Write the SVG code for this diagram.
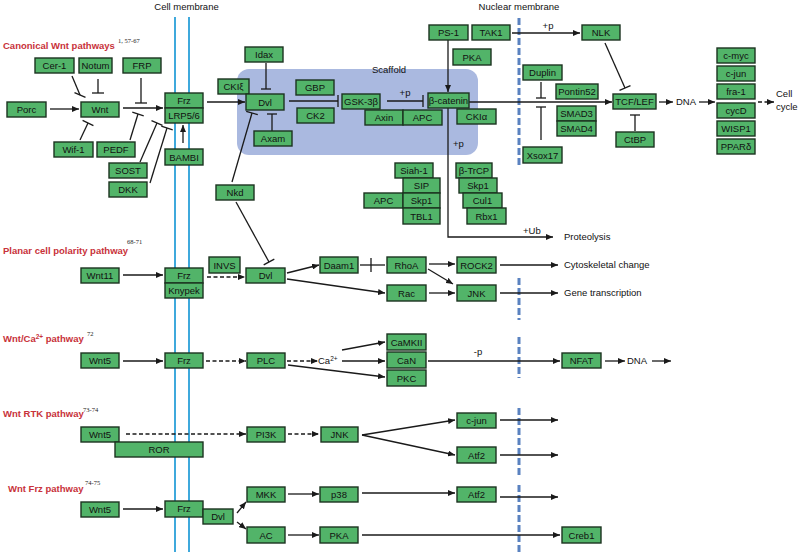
<svg xmlns="http://www.w3.org/2000/svg" width="800" height="552" viewBox="0 0 800 552">
<style>
.n rect{fill:#52b469;stroke:#1c3320;stroke-width:1.4}
.n text{font-family:"Liberation Sans",Arial,sans-serif;font-size:9.5px;text-anchor:middle;fill:#111}
.c line,.c path,.c polyline{stroke:#1a1a1a;stroke-width:1.3;fill:none}
.c .d{stroke-dasharray:4 2.5}
.lbl{font-family:"Liberation Sans",Arial,sans-serif;font-size:9.5px;fill:#111}
.ttl{font-family:"Liberation Sans",Arial,sans-serif;font-size:9.5px;font-weight:bold;fill:#c8323a}
.sup{font-family:"Liberation Serif","Times New Roman",serif;font-size:6.5px;fill:#222}
.mem{stroke:#3fa9dc;stroke-width:2}
.nuc{stroke:#5a82c0;stroke-width:3;stroke-dasharray:7 3}
</style>
<defs>
<marker id="a" markerUnits="userSpaceOnUse" markerWidth="8" markerHeight="6" refX="7" refY="3" orient="auto"><path d="M0,0 L7,3 L0,6 z" fill="#1a1a1a"/></marker>
</defs>
<rect width="800" height="552" fill="#fff"/>
<!-- membranes -->
<g id="membranes">
<line class="mem" x1="175" y1="17" x2="175" y2="552"/>
<line class="mem" x1="189" y1="17" x2="189" y2="552"/>
<line class="nuc" x1="519" y1="18" x2="519" y2="168"/>
<line class="nuc" x1="519" y1="278" x2="519" y2="320"/>
<line class="nuc" x1="519" y1="337" x2="519" y2="378"/>
<line class="nuc" x1="519" y1="408" x2="519" y2="478"/>
<line class="nuc" x1="519" y1="485" x2="519" y2="552"/>
<text class="lbl" x="186.5" y="10" text-anchor="middle">Cell membrane</text>
<text class="lbl" x="519" y="10" text-anchor="middle">Nuclear membrane</text>
</g>
<g id="scaffold">
<rect x="237" y="69" width="241" height="86" rx="12" fill="#aab9e0"/>
<text class="lbl" x="389" y="73" text-anchor="middle">Scaffold</text>
</g>
<!-- titles -->
<g id="titles">
<text class="ttl" x="3" y="49">Canonical  Wnt pathways</text><text class="sup" x="118" y="43">1, 57-67</text>
<text class="ttl" x="3" y="254">Planar cell polarity pathway</text><text class="sup" x="127" y="244">68-71</text>
<text class="ttl" x="3" y="342">Wnt/Ca<tspan font-size="6.5px" dy="-3">2+</tspan><tspan dy="3"> pathway</tspan></text><text class="sup" x="87" y="336">72</text>
<text class="ttl" x="3" y="417">Wnt RTK pathway</text><text class="sup" x="83" y="412">73-74</text>
<text class="ttl" x="8" y="492">Wnt Frz pathway</text><text class="sup" x="85" y="485">74-75</text>
</g>
<!-- connectors -->
<g id="connectors" class="c">
<!-- canonical -->
<line x1="50" y1="109" x2="79" y2="109" marker-end="url(#a)"/>
<line x1="72" y1="76" x2="80" y2="95"/><line x1="74.5" y1="92.7" x2="85.5" y2="97.3"/>
<line x1="98" y1="79" x2="98" y2="93"/><line x1="92" y1="93" x2="104" y2="93"/>
<line x1="80" y1="140" x2="88" y2="123"/><line x1="82.6" y1="120.4" x2="93.4" y2="125.6"/>
<line x1="123" y1="108" x2="163" y2="108" marker-end="url(#a)"/>
<line x1="141" y1="78" x2="141" y2="103"/><line x1="135" y1="103" x2="147" y2="103"/>
<line x1="130" y1="140" x2="138" y2="114"/><line x1="132.3" y1="112.2" x2="143.7" y2="115.8"/>
<line x1="140" y1="162" x2="157" y2="123"/><line x1="151.5" y1="120.6" x2="162.5" y2="125.4"/>
<line x1="150" y1="183" x2="167" y2="128"/><line x1="161.3" y1="126.2" x2="172.7" y2="129.8"/>
<line x1="183" y1="143" x2="183" y2="125" marker-end="url(#a)"/>
<line x1="207" y1="102" x2="245" y2="102" marker-end="url(#a)"/>
<line x1="266" y1="63" x2="266" y2="89"/><line x1="261" y1="89" x2="271" y2="89"/>
<line x1="272" y1="131" x2="272" y2="114"/><line x1="267" y1="114" x2="277" y2="114"/>
<line x1="232" y1="182" x2="252" y2="113"/><line x1="246.2" y1="111.3" x2="257.8" y2="114.7"/>
<line x1="289" y1="101" x2="338" y2="101"/><line x1="338" y1="95" x2="338" y2="107"/>
<line x1="387" y1="101" x2="423" y2="101"/><line x1="423" y1="95" x2="423" y2="107"/>
<line x1="448" y1="40" x2="448" y2="92" marker-end="url(#a)"/>
<line x1="512" y1="33" x2="580" y2="33" marker-end="url(#a)"/>
<line x1="469" y1="102" x2="612" y2="102" marker-end="url(#a)"/>
<line x1="541" y1="82" x2="541" y2="98"/><line x1="536" y1="98" x2="546" y2="98"/>
<line x1="541" y1="140" x2="541" y2="107"/><line x1="536" y1="107" x2="546" y2="107"/>
<line x1="605" y1="43" x2="625" y2="88"/><line x1="619.5" y1="90.4" x2="630.5" y2="85.6"/>
<line x1="635" y1="131" x2="635" y2="115"/><line x1="630" y1="115" x2="640" y2="115"/>
<line x1="659" y1="102" x2="673" y2="102" marker-end="url(#a)"/>
<line x1="699" y1="102" x2="715" y2="102" marker-end="url(#a)"/>
<line class="d" x1="758" y1="102" x2="774" y2="102" marker-end="url(#a)"/>
<polyline points="448,108 448,237 553,237" marker-end="url(#a)"/>
<line x1="236" y1="202" x2="269" y2="262"/><line x1="263.7" y1="264.9" x2="274.3" y2="259.1"/>
<!-- planar -->
<line x1="123" y1="275" x2="163" y2="275" marker-end="url(#a)"/>
<line class="d" x1="207" y1="277" x2="245" y2="277" marker-end="url(#a)"/>
<line x1="287" y1="273" x2="319" y2="265" marker-end="url(#a)"/>
<line x1="360" y1="265" x2="385" y2="265"/><line x1="371" y1="258" x2="371" y2="272"/>
<line x1="287" y1="279" x2="385" y2="293" marker-end="url(#a)"/>
<line x1="429" y1="264" x2="455" y2="264" marker-end="url(#a)"/>
<line x1="428" y1="269" x2="453" y2="284" marker-end="url(#a)"/>
<line x1="429" y1="293" x2="455" y2="293" marker-end="url(#a)"/>
<line x1="500" y1="265" x2="558" y2="265" marker-end="url(#a)"/>
<line x1="500" y1="293" x2="558" y2="293" marker-end="url(#a)"/>
<!-- Ca -->
<line x1="123" y1="361" x2="163" y2="361" marker-end="url(#a)"/>
<line class="d" x1="206" y1="361" x2="246" y2="361" marker-end="url(#a)"/>
<line class="d" x1="287" y1="361" x2="318" y2="361" marker-end="url(#a)"/>
<line x1="342" y1="350" x2="385" y2="342" marker-end="url(#a)"/>
<line x1="342" y1="361" x2="385" y2="361" marker-end="url(#a)"/>
<line x1="288" y1="365" x2="385" y2="377" marker-end="url(#a)"/>
<line x1="428" y1="361" x2="560" y2="361" marker-end="url(#a)"/>
<line x1="605" y1="361" x2="625" y2="361" marker-end="url(#a)"/>
<line x1="652" y1="361" x2="671" y2="361" marker-end="url(#a)"/>
<!-- RTK -->
<line class="d" x1="126" y1="434" x2="246" y2="434" marker-end="url(#a)"/>
<line class="d" x1="288" y1="434" x2="319" y2="434" marker-end="url(#a)"/>
<line x1="362" y1="435" x2="455" y2="420" marker-end="url(#a)"/>
<line x1="362" y1="435" x2="455" y2="455" marker-end="url(#a)"/>
<line x1="500" y1="420" x2="558" y2="420" marker-end="url(#a)"/>
<line x1="500" y1="455" x2="558" y2="455" marker-end="url(#a)"/>
<!-- Frz -->
<line x1="123" y1="509" x2="163" y2="509" marker-end="url(#a)"/>
<line x1="237" y1="513" x2="246" y2="502" marker-end="url(#a)"/>
<line x1="237" y1="522" x2="246" y2="529" marker-end="url(#a)"/>
<line x1="288" y1="494" x2="319" y2="494" marker-end="url(#a)"/>
<line x1="288" y1="535" x2="319" y2="535" marker-end="url(#a)"/>
<line x1="362" y1="493" x2="455" y2="493" marker-end="url(#a)"/>
<line x1="500" y1="497" x2="558" y2="497" marker-end="url(#a)"/>
<line x1="362" y1="535" x2="560" y2="535" marker-end="url(#a)"/>
</g>
<!-- free labels -->
<g id="labels" class="lbl">
<text x="405" y="96" text-anchor="middle">+p</text>
<text x="548" y="29" text-anchor="middle">+p</text>
<text x="453" y="147">+p</text>
<text x="523" y="234">+Ub</text>
<text x="564" y="240">Proteolysis</text>
<text x="676" y="105">DNA</text>
<text x="776" y="97">Cell</text>
<text x="776" y="110">cycle</text>
<text x="564" y="268">Cytoskeletal change</text>
<text x="564" y="296">Gene transcription</text>
<text x="318" y="364">Ca<tspan font-size="6.5px" dy="-3">2+</tspan></text>
<text x="478" y="355" text-anchor="middle">-p</text>
<text x="627" y="364">DNA</text>
</g>
<!-- nodes canonical -->
<g id="cer1" class="n"><rect x="35" y="58" width="39" height="15"/><text x="54.5" y="69">Cer-1</text></g>
<g id="notum" class="n"><rect x="79" y="58" width="33" height="15"/><text x="95.5" y="69">Notum</text></g>
<g id="frp" class="n"><rect x="123" y="58" width="38" height="15"/><text x="142" y="69">FRP</text></g>
<g id="porc" class="n"><rect x="7" y="102" width="39" height="15"/><text x="26.5" y="113">Porc</text></g>
<g id="wnt" class="n"><rect x="81" y="102" width="38" height="15"/><text x="100" y="113">Wnt</text></g>
<g id="frz1" class="n"><rect x="165" y="93" width="38" height="15"/><text x="184" y="104">Frz</text></g>
<g id="lrp" class="n"><rect x="165" y="108" width="38" height="15"/><text x="184" y="119">LRP5/6</text></g>
<g id="wif1" class="n"><rect x="54" y="142" width="39" height="15"/><text x="73.5" y="153">Wif-1</text></g>
<g id="pedf" class="n"><rect x="97" y="142" width="38" height="15"/><text x="116" y="153">PEDF</text></g>
<g id="sost" class="n"><rect x="109" y="163" width="38" height="15"/><text x="128" y="174">SOST</text></g>
<g id="dkk" class="n"><rect x="109" y="182" width="38" height="15"/><text x="128" y="193">DKK</text></g>
<g id="bambi" class="n"><rect x="165" y="149" width="38" height="16"/><text x="184" y="160.5">BAMBI</text></g>
<g id="idax" class="n"><rect x="245" y="47" width="38" height="15"/><text x="264" y="58">Idax</text></g>
<g id="ckie" class="n"><rect x="218" y="79" width="31" height="15"/><text x="233.5" y="90">CKIξ</text></g>
<g id="dvl1" class="n"><rect x="246" y="94" width="38" height="16"/><text x="265" y="105.5">Dvl</text></g>
<g id="axam" class="n"><rect x="254" y="131" width="38" height="15"/><text x="273" y="142">Axam</text></g>
<g id="gbp" class="n"><rect x="296" y="80" width="38" height="15"/><text x="315" y="91">GBP</text></g>
<g id="ck2" class="n"><rect x="297" y="108" width="37" height="15"/><text x="315.5" y="119">CK2</text></g>
<g id="gsk" class="n"><rect x="342" y="94" width="38" height="15"/><text x="361" y="105">GSK-3β</text></g>
<g id="axin" class="n"><rect x="365" y="110" width="38" height="15"/><text x="384" y="121">Axin</text></g>
<g id="apc1" class="n"><rect x="403" y="110" width="39" height="15"/><text x="422.5" y="121">APC</text></g>
<g id="bcat" class="n"><rect x="428" y="93" width="41" height="15"/><text x="448.5" y="104">β-catenin</text></g>
<g id="ckia" class="n"><rect x="457" y="109" width="39" height="15"/><text x="476.5" y="120">CKIα</text></g>
<g id="ps1" class="n"><rect x="429" y="25" width="39" height="15"/><text x="448.5" y="36">PS-1</text></g>
<g id="tak1" class="n"><rect x="472" y="25" width="38" height="15"/><text x="491" y="36">TAK1</text></g>
<g id="pka1" class="n"><rect x="453" y="49" width="38" height="16"/><text x="472" y="60.5">PKA</text></g>
<g id="nkd" class="n"><rect x="216" y="185" width="38" height="15"/><text x="235" y="196">Nkd</text></g>
<g id="siah1" class="n"><rect x="395" y="163" width="38" height="15"/><text x="414" y="174">Siah-1</text></g>
<g id="sip" class="n"><rect x="403" y="178" width="37" height="15"/><text x="421.5" y="189">SIP</text></g>
<g id="apc2" class="n"><rect x="364" y="193" width="39" height="15"/><text x="383.5" y="204">APC</text></g>
<g id="skp1a" class="n"><rect x="403" y="193" width="37" height="15"/><text x="421.5" y="204">Skp1</text></g>
<g id="tbl1" class="n"><rect x="403" y="208" width="37" height="16"/><text x="421.5" y="219.5">TBL1</text></g>
<g id="btrcp" class="n"><rect x="456" y="163" width="36" height="15"/><text x="474" y="174">β-TrCP</text></g>
<g id="skp1b" class="n"><rect x="459" y="178" width="38" height="15"/><text x="478" y="189">Skp1</text></g>
<g id="cul1" class="n"><rect x="463" y="193" width="39" height="15"/><text x="482.5" y="204">Cul1</text></g>
<g id="rbx1" class="n"><rect x="467" y="208" width="39" height="16"/><text x="486.5" y="219.5">Rbx1</text></g>
<g id="nlk" class="n"><rect x="582" y="25" width="38" height="15"/><text x="601" y="36">NLK</text></g>
<g id="duplin" class="n"><rect x="523" y="65" width="39" height="15"/><text x="542.5" y="76">Duplin</text></g>
<g id="pontin" class="n"><rect x="556" y="84" width="42" height="15"/><text x="577" y="95">Pontin52</text></g>
<g id="smad3" class="n"><rect x="557" y="106" width="39" height="15"/><text x="576.5" y="117">SMAD3</text></g>
<g id="smad4" class="n"><rect x="557" y="121" width="39" height="15"/><text x="576.5" y="132">SMAD4</text></g>
<g id="xsox17" class="n"><rect x="523" y="147" width="39" height="16"/><text x="542.5" y="158.5">Xsox17</text></g>
<g id="tcf" class="n"><rect x="613" y="94" width="43" height="15"/><text x="634.5" y="105">TCF/LEF</text></g>
<g id="ctbp" class="n"><rect x="616" y="132" width="38" height="15"/><text x="635" y="143">CtBP</text></g>
<g id="cmyc" class="n"><rect x="717" y="48" width="38" height="15"/><text x="736" y="59">c-myc</text></g>
<g id="cjun1" class="n"><rect x="717" y="66" width="38" height="15"/><text x="736" y="77">c-jun</text></g>
<g id="fra1" class="n"><rect x="717" y="84" width="38" height="15"/><text x="736" y="95">fra-1</text></g>
<g id="cycd" class="n"><rect x="717" y="103" width="38" height="15"/><text x="736" y="114">cycD</text></g>
<g id="wisp1" class="n"><rect x="717" y="121" width="38" height="15"/><text x="736" y="132">WISP1</text></g>
<g id="ppard" class="n"><rect x="717" y="139" width="38" height="15"/><text x="736" y="150">PPARδ</text></g>
<!-- planar -->
<g id="wnt11" class="n"><rect x="81" y="268" width="38" height="15"/><text x="100" y="279">Wnt11</text></g>
<g id="frz2" class="n"><rect x="165" y="268" width="38" height="15"/><text x="184" y="279">Frz</text></g>
<g id="knypek" class="n"><rect x="165" y="283" width="38" height="15"/><text x="184" y="294">Knypek</text></g>
<g id="invs" class="n"><rect x="209" y="257" width="31" height="16"/><text x="224.5" y="268.5">INVS</text></g>
<g id="dvl2" class="n"><rect x="246" y="268" width="39" height="15"/><text x="265.5" y="279">Dvl</text></g>
<g id="daam1" class="n"><rect x="320" y="257" width="38" height="16"/><text x="339" y="268.5">Daam1</text></g>
<g id="rhoa" class="n"><rect x="387" y="257" width="39" height="16"/><text x="406.5" y="268.5">RhoA</text></g>
<g id="rac" class="n"><rect x="387" y="285" width="39" height="16"/><text x="406.5" y="296.5">Rac</text></g>
<g id="rock2" class="n"><rect x="457" y="257" width="39" height="16"/><text x="476.5" y="268.5">ROCK2</text></g>
<g id="jnk1" class="n"><rect x="457" y="285" width="39" height="16"/><text x="476.5" y="296.5">JNK</text></g>
<!-- Ca -->
<g id="wnt5a" class="n"><rect x="81" y="353" width="38" height="15"/><text x="100" y="364">Wnt5</text></g>
<g id="frz3" class="n"><rect x="165" y="353" width="38" height="15"/><text x="184" y="364">Frz</text></g>
<g id="plc" class="n"><rect x="247" y="353" width="38" height="15"/><text x="266" y="364">PLC</text></g>
<g id="camkii" class="n"><rect x="387" y="334" width="39" height="16"/><text x="406.5" y="345.5">CaMKII</text></g>
<g id="can" class="n"><rect x="387" y="352" width="39" height="16"/><text x="406.5" y="363.5">CaN</text></g>
<g id="pkc" class="n"><rect x="387" y="370" width="39" height="16"/><text x="406.5" y="381.5">PKC</text></g>
<g id="nfat" class="n"><rect x="562" y="353" width="39" height="15"/><text x="581.5" y="364">NFAT</text></g>
<!-- RTK -->
<g id="wnt5b" class="n"><rect x="81" y="427" width="38" height="15"/><text x="100" y="438">Wnt5</text></g>
<g id="ror" class="n"><rect x="115" y="442" width="88" height="15"/><text x="159" y="453">ROR</text></g>
<g id="pi3k" class="n"><rect x="247" y="427" width="38" height="15"/><text x="266" y="438">PI3K</text></g>
<g id="jnk2" class="n"><rect x="321" y="427" width="37" height="15"/><text x="339.5" y="438">JNK</text></g>
<g id="cjun2" class="n"><rect x="457" y="413" width="39" height="15"/><text x="476.5" y="424">c-jun</text></g>
<g id="atf2a" class="n"><rect x="457" y="447" width="39" height="16"/><text x="476.5" y="458.5">Atf2</text></g>
<!-- Frz pathway -->
<g id="wnt5c" class="n"><rect x="81" y="502" width="38" height="15"/><text x="100" y="513">Wnt5</text></g>
<g id="frz4" class="n"><rect x="165" y="501" width="38" height="16"/><text x="184" y="511.5">Frz</text></g>
<g id="dvl3" class="n"><rect x="203" y="509" width="30" height="15"/><text x="218" y="520">Dvl</text></g>
<g id="mkk" class="n"><rect x="247" y="487" width="38" height="15"/><text x="266" y="498">MKK</text></g>
<g id="ac" class="n"><rect x="247" y="527" width="38" height="16"/><text x="266" y="538.5">AC</text></g>
<g id="p38" class="n"><rect x="320" y="487" width="38" height="15"/><text x="339" y="498">p38</text></g>
<g id="pka2" class="n"><rect x="320" y="527" width="38" height="16"/><text x="339" y="538.5">PKA</text></g>
<g id="atf2b" class="n"><rect x="457" y="487" width="39" height="15"/><text x="476.5" y="498">Atf2</text></g>
<g id="creb1" class="n"><rect x="562" y="527" width="39" height="16"/><text x="581.5" y="538.5">Creb1</text></g>
</svg>
